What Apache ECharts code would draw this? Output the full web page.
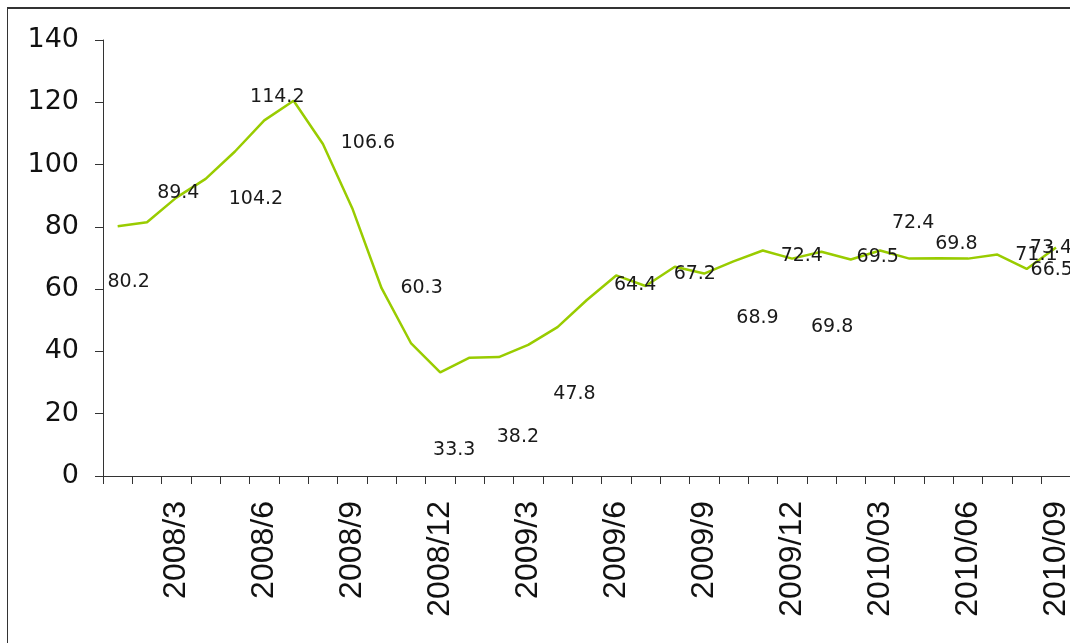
<!DOCTYPE html>
<html>
<head>
<meta charset="utf-8">
<script src="https://cdn.jsdelivr.net/npm/echarts@6/dist/echarts.min.js"></script>
<style>
  html, body { margin: 0; padding: 0; background: #fff; overflow: hidden; width: 1070px; height: 643px; }
  #frame { position: absolute; left: 7px; top: 7px; width: 1110px; height: 700px; border: 1px solid #333; border-top-width: 2px; }
  #chart { width: 1110px; height: 700px; }
</style>
</head>
<body>
<div id="frame"><div id="chart"></div></div>
<script>
// Monthly categories, Jan 2008 onwards
const categories = [
  '2008/1','2008/2','2008/3','2008/4','2008/5','2008/6','2008/7','2008/8','2008/9','2008/10','2008/11','2008/12',
  '2009/1','2009/2','2009/3','2009/4','2009/5','2009/6','2009/7','2009/8','2009/9','2009/10','2009/11','2009/12',
  '2010/01','2010/02','2010/03','2010/04','2010/05','2010/06','2010/07','2010/08','2010/09','2010/10'
];

// Monthly index values
const values = [
  80.2, 81.5, 89.4, 95.4, 104.2, 114.2, 120.5, 106.6, 86.0, 60.3, 42.7, 33.3,
  38.0, 38.2, 42.1, 47.8, 56.5, 64.4, 61.0, 67.2, 65.0, 68.9, 72.4, 69.8,
  72.0, 69.5, 72.4, 69.8, 69.9, 69.8, 71.1, 66.5, 73.4
];

// Value-axis ticks
const yTicks = [0, 20, 40, 60, 80, 100, 120, 140];

// Which points carry a value label, and where the label sits relative to its point
const labelOffsets = {
  0: [11, 56], 2: [2, -5], 4: [21, 48], 5: [13, -23], 7: [45, -1], 9: [40, 0],
  11: [14, 78], 13: [19, 80], 15: [17, 67], 17: [19, 10], 19: [20, 7],
  21: [24, 57], 22: [39, 6], 23: [40, 68], 25: [27, -2], 26: [33, -27],
  27: [47, -15], 30: [39, 0], 31: [25, 1], 32: [-5, 1]
};

const seriesData = values.map((v, i) => {
  if (!labelOffsets[i]) return { value: v };
  return {
    value: v,
    label: {
      show: true,
      position: 'inside',
      align: 'center',
      verticalAlign: 'middle',
      fontFamily: 'DejaVu Sans',
      fontSize: 19,
      color: '#1a1a1a'
    }
  };
});

const chart = echarts.init(document.getElementById('chart'), null, { renderer: 'canvas' });
chart.setOption({
  animation: false,
  backgroundColor: '#fff',
  grid: { left: 95, top: 31, width: 997, height: 436, containLabel: false },
  xAxis: {
    type: 'category',
    data: categories,
    boundaryGap: true,
    axisLine: { lineStyle: { color: '#333', width: 1 } },
    axisTick: { show: true, interval: 0, length: 8, lineStyle: { color: '#333' } },
    axisLabel: {
      interval: (i) => i % 3 === 2,
      rotate: 90,
      margin: 25,
      fontFamily: 'Arial',
      fontSize: 32,
      color: '#111'
    },
    splitLine: { show: false }
  },
  yAxis: {
    type: 'value',
    min: yTicks[0],
    max: yTicks[yTicks.length - 1],
    interval: yTicks[1] - yTicks[0],
    axisLine: { show: true, lineStyle: { color: '#333', width: 1 } },
    axisTick: { show: true, length: 8, lineStyle: { color: '#333' } },
    axisLabel: {
      margin: 24,
      fontFamily: 'DejaVu Sans',
      fontSize: 27,
      color: '#111'
    },
    splitLine: { show: false }
  },
  series: [{
    type: 'line',
    data: seriesData,
    showSymbol: true,
    showAllSymbol: true,
    symbol: 'circle',
    symbolSize: 2,
    lineStyle: { color: '#99cc00', width: 2.5 },
    itemStyle: { color: 'rgba(153,204,0,0)', borderWidth: 0 },
    label: { show: false },
    labelLayout: (params) => {
      const off = labelOffsets[params.dataIndex] || [0, 0];
      return { dx: off[0], dy: off[1], hideOverlap: false };
    }
  }]
});
</script>
</body>
</html>
